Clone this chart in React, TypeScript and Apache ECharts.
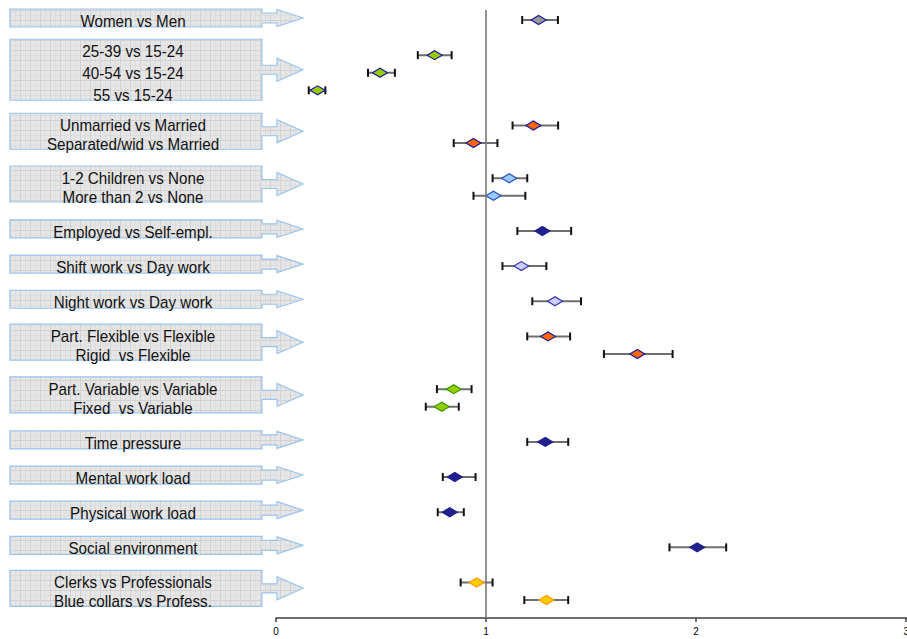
import React, { useEffect, useRef } from "react";
import * as echarts from "echarts";

// ---- data ----
const rowLabels = [
  "Women vs Men",
  "25-39 vs 15-24",
  "40-54 vs 15-24",
  "55 vs 15-24",
  "Unmarried vs Married",
  "Separated/wid vs Married",
  "1-2 Children vs None",
  "More than 2 vs None",
  "Employed vs Self-empl.",
  "Shift work vs Day work",
  "Night work vs Day work",
  "Part. Flexible vs Flexible",
  "Rigid  vs Flexible",
  "Part. Variable vs Variable",
  "Fixed  vs Variable",
  "Time pressure",
  "Mental work load",
  "Physical work load",
  "Social environment",
  "Clerks vs Professionals",
  "Blue collars vs Profess.",
];
const groupSizes = [1, 3, 2, 2, 1, 1, 1, 2, 2, 1, 1, 1, 1, 2];
const estimate = [1.25, 0.755, 0.495, 0.198, 1.225, 0.94, 1.11, 1.035, 1.268, 1.168, 1.328, 1.295, 1.72, 0.846, 0.789, 1.282, 0.851, 0.827, 2.005, 0.955, 1.287];
const lower = [1.172, 0.675, 0.438, 0.156, 1.126, 0.846, 1.031, 0.94, 1.149, 1.078, 1.22, 1.196, 1.561, 0.766, 0.713, 1.196, 0.794, 0.77, 1.873, 0.879, 1.182];
const upper = [1.342, 0.836, 0.566, 0.235, 1.343, 1.054, 1.196, 1.187, 1.405, 1.287, 1.452, 1.4, 1.888, 0.931, 0.87, 1.391, 0.95, 0.894, 2.143, 1.031, 1.391];
const xTicks = [0, 1, 2, 3];

// ---- styles ----
const fills = ["#9a9a9a", "#99cc00", "#99cc00", "#99cc00", "#ff6600", "#ff6600", "#99ccff", "#99ccff", "#20208e", "#ccccff", "#ccccff", "#ff6600", "#ff6600", "#99cc00", "#99cc00", "#20208e", "#20208e", "#20208e", "#20208e", "#ffcc00", "#ffcc00"];
const strokes = ["#1a1a99", "#1a1a99", "#1a1a99", "#1a1a99", "#1a1a99", "#1a1a99", "#2a4fc0", "#2a4fc0", "#20208e", "#3333aa", "#3333aa", "#1a1a99", "#1a1a99", "#339900", "#339900", "#20208e", "#20208e", "#20208e", "#20208e", "#ff9900", "#ff9900"];
const boxHeights = [0, 18, 36, 61];
const lineHeights = [0, 18, 19, 22];

// slot index of each row: groups separated by one empty slot
function rowSlots(): number[] {
  const slots: number[] = [];
  let k = 1;
  groupSizes.forEach((n) => {
    for (let i = 0; i < n; i++) slots.push(k++);
    k++;
  });
  return slots;
}

export default function App() {
  const ref = useRef<HTMLDivElement>(null);
  useEffect(() => {
    if (!ref.current) return;
    const chart = echarts.init(ref.current, null, { renderer: "svg" });
    const slots = rowSlots();
    const data = rowLabels.map((_, i) => [slots[i], estimate[i], lower[i], upper[i]]);

    chart.setOption({
      animation: false,
      grid: { left: 276, right: 3, top: 10, bottom: 21 },
      xAxis: {
        type: "value",
        min: xTicks[0],
        max: xTicks[xTicks.length - 1],
        interval: 1,
        splitLine: { show: false },
        axisLine: { show: true, lineStyle: { color: "#404040", width: 1.5 } },
        axisTick: { show: true, length: 4, lineStyle: { color: "#404040", width: 1.5 } },
        axisLabel: { color: "#000", fontSize: 10, fontFamily: "Liberation Sans, Arial, sans-serif", margin: 8 },
      },
      yAxis: { type: "value", min: 0.43, max: 35.02, inverse: true, show: false },
      series: [
        {
          type: "custom",
          data,
          encode: { x: [1, 2, 3], y: 0 },
          renderItem: (params: any, api: any) => {
            const i = params.dataIndex;
            const yv = api.value(0);
            const c = api.coord([api.value(1), yv]);
            const lo = api.coord([api.value(2), yv]);
            const hi = api.coord([api.value(3), yv]);
            const cy = c[1];
            return {
              type: "group",
              children: [
                { type: "line", shape: { x1: lo[0], y1: cy, x2: hi[0], y2: cy }, style: { stroke: "#6f6f6f", lineWidth: 2 } },
                { type: "line", shape: { x1: lo[0], y1: cy - 4, x2: lo[0], y2: cy + 4 }, style: { stroke: "#111", lineWidth: 2 } },
                { type: "line", shape: { x1: hi[0], y1: cy - 4, x2: hi[0], y2: cy + 4 }, style: { stroke: "#111", lineWidth: 2 } },
                {
                  type: "polygon",
                  shape: { points: [[c[0] - 7.5, cy], [c[0], cy - 4.5], [c[0] + 7.5, cy], [c[0], cy + 4.5]] },
                  style: { fill: fills[i], stroke: strokes[i], lineWidth: 1.2 },
                },
              ],
            };
          },
          markLine: {
            silent: true,
            symbol: "none",
            label: { show: false },
            lineStyle: { color: "#777", width: 1.6, type: "solid" },
            data: [{ xAxis: 1 }],
          },
          z: 3,
        },
      ],
    });

    // pattern for label boxes
    const cv = document.createElement("canvas");
    cv.width = 10;
    cv.height = 10;
    const ctx = cv.getContext("2d");
    if (ctx) {
      ctx.fillStyle = "#e6e6e6";
      ctx.fillRect(0, 0, 10, 10);
      ctx.fillStyle = "#dedede";
      ctx.fillRect(5, 0, 1, 10);
      ctx.fillRect(0, 5, 10, 1);
      ctx.fillStyle = "#d2d2d2";
      ctx.fillRect(0, 0, 10, 1);
      ctx.fillRect(0, 0, 1, 10);
    }

    const graphics: any[] = [];
    let start = 0;
    groupSizes.forEach((n) => {
      const y1 = chart.convertToPixel({ gridIndex: 0 }, [0, slots[start]])[1];
      const y2 = chart.convertToPixel({ gridIndex: 0 }, [0, slots[start + n - 1]])[1];
      const mid = (y1 + y2) / 2;
      const h = boxHeights[n];
      const bc = mid - (n === 1 ? 2 : 3);
      const top = bc - h / 2;
      const bot = bc + h / 2;
      const hh = n === 1 ? 8.5 : 11.5;
      const sh = n === 1 ? 5 : 4.5;
      const L = 10, R = 262, A = 277, T = 303;
      graphics.push({
        type: "polygon",
        shape: {
          points: [
            [L, top], [R, top], [R, bc - sh], [A, bc - sh], [A, bc - hh], [T, bc], [A, bc + hh], [A, bc + sh], [R, bc + sh], [R, bot], [L, bot],
          ],
        },
        style: { fill: { image: cv, repeat: "repeat", imageWidth: 10, imageHeight: 10 }, stroke: "#99c4f0", lineWidth: 1.2 },
        z: 1,
      });
      graphics.push({
        type: "text",
        x: 133,
        y: mid + 1,
        scaleX: 0.95,
        style: {
          text: rowLabels.slice(start, start + n).join("\n"),
          font: "16px 'Liberation Sans', Arial, sans-serif",
          fill: "#111",
          align: "center",
          verticalAlign: "middle",
          lineHeight: lineHeights[n],
        },
        z: 2,
      });
      start += n;
    });
    chart.setOption({ graphic: graphics });

    return () => chart.dispose();
  }, []);
  return (
    <div style={{ position: "absolute", left: 0, top: 0, width: 907, height: 639, overflow: "hidden" }}>
      <div ref={ref} style={{ width: 912, height: 639 }} />
    </div>
  );
}
